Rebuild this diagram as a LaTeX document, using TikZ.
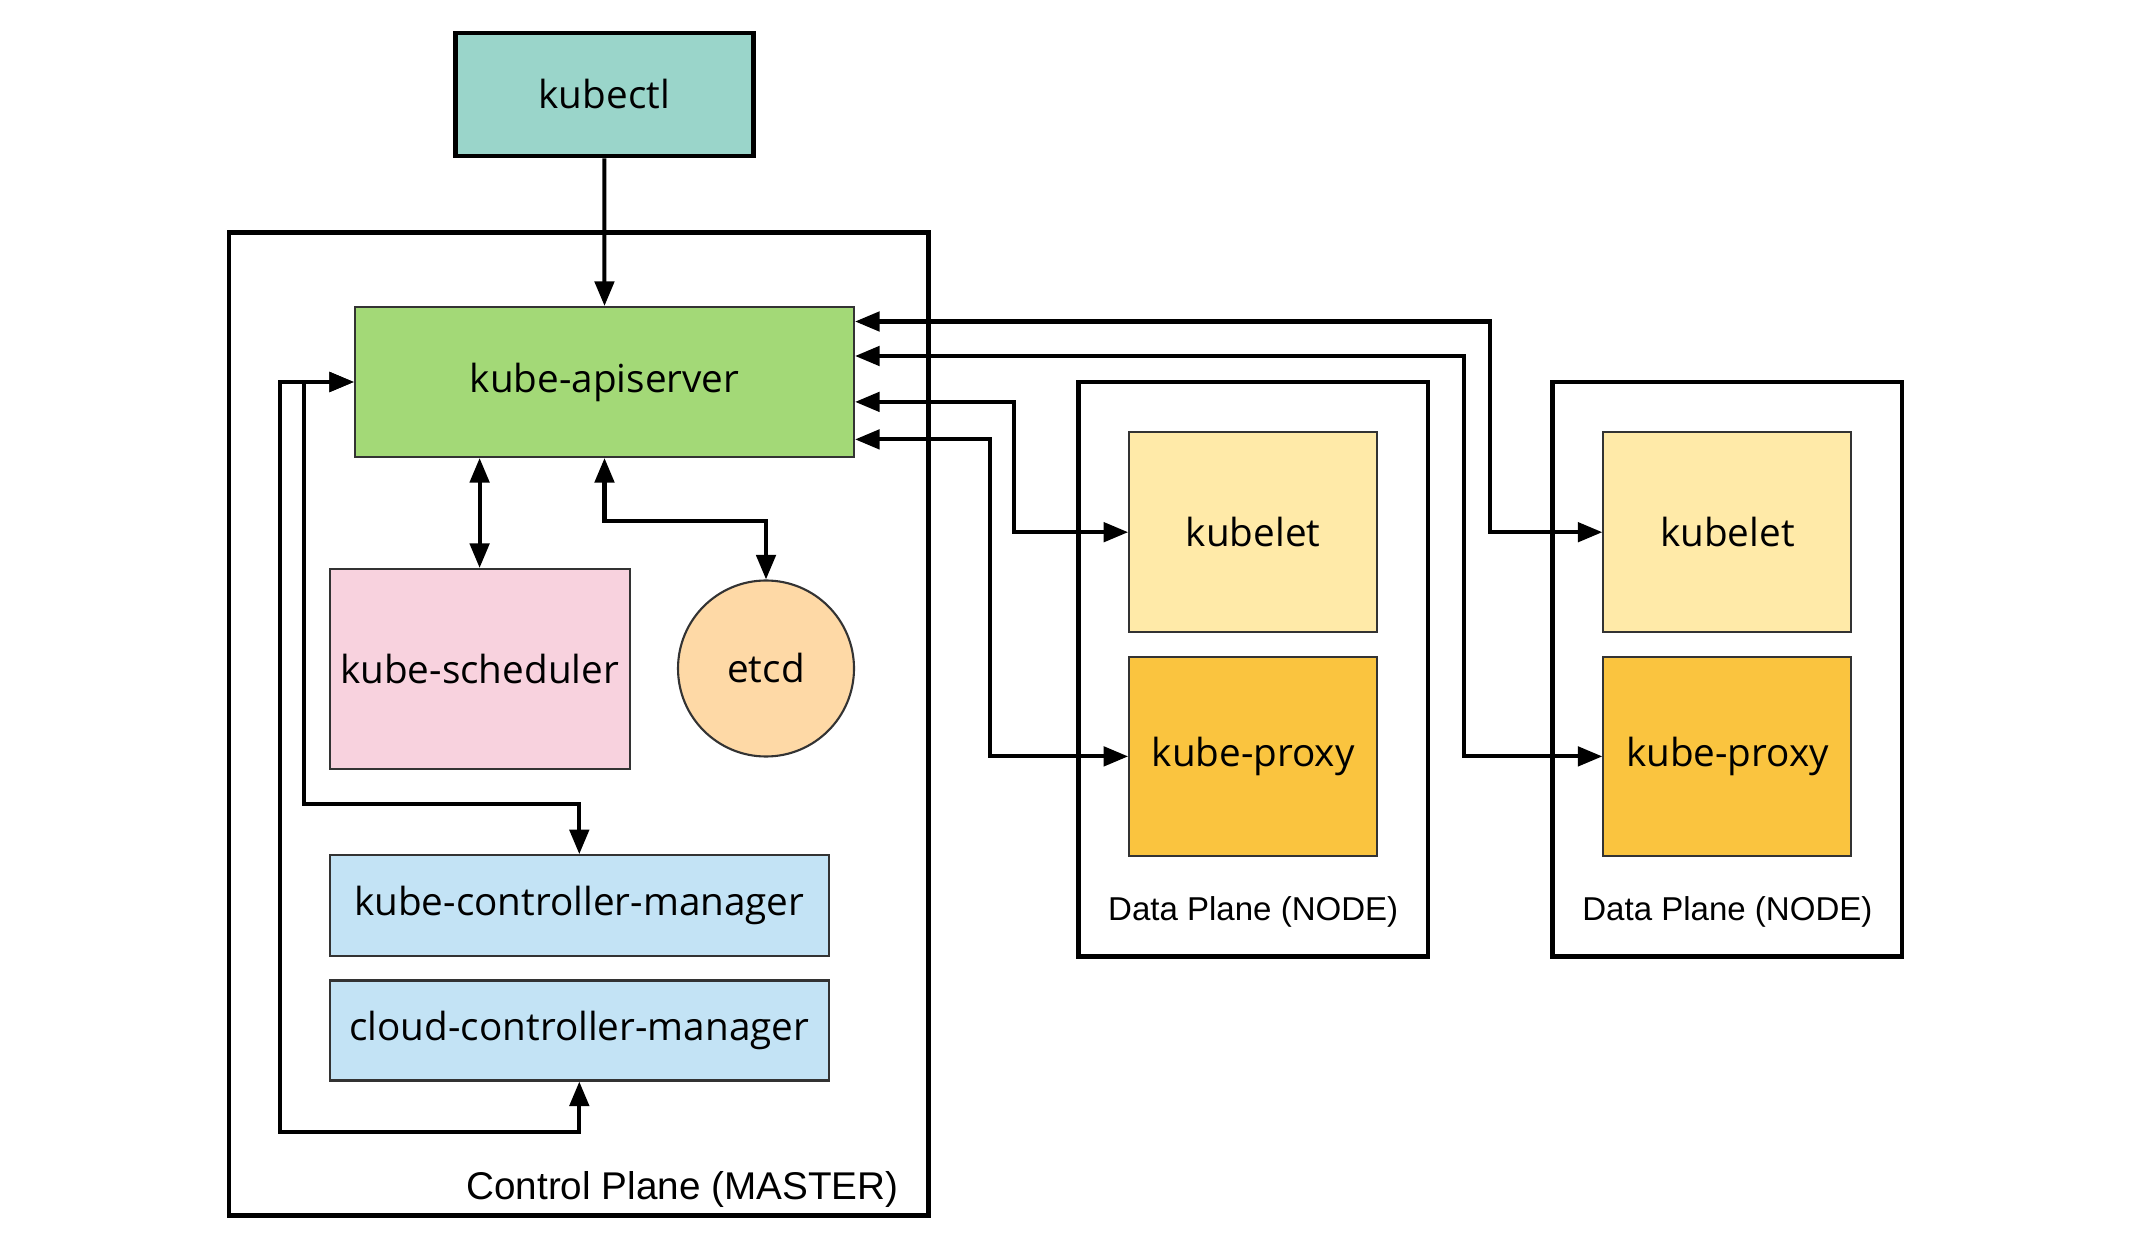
\documentclass[tikz,border=0pt]{standalone}
\usepackage{fontspec}
\setmainfont{Open Sans}
\newfontfamily\planefont{Liberation Sans}
\usetikzlibrary{arrows.meta, positioning, shapes.geometric}

\definecolor{ctlcol}{HTML}{9AD5CA}
\definecolor{apicol}{HTML}{A3D977}
\definecolor{schedcol}{HTML}{F8D2DE}
\definecolor{etcdcol}{HTML}{FED9A6}
\definecolor{mgrcol}{HTML}{C3E3F5}
\definecolor{letcol}{HTML}{FFEAA8}
\definecolor{proxycol}{HTML}{FAC43F}

\tikzset{
  comp/.style={draw=black!80, line width=0.6pt, inner sep=0pt,
    font=\fontsize{11}{13}\selectfont},
  plane/.style={draw, line width=1.3pt, inner sep=0pt},
  link/.style={line width=1.15pt, >={Triangle[length=7pt,width=5.5pt]}},
  planelabel/.style={inner sep=0pt, font=\planefont\fontsize{9.4}{11}\selectfont}
}

\begin{document}
\begin{tikzpicture}
\useasboundingbox (0,0) rectangle (21.4,-12.54);

% control plane
\draw[plane] (2.29,-2.323) rectangle (9.286,-12.155);
\node[planelabel, font=\planefont\fontsize{11}{13}\selectfont, anchor=east] (masterlbl) at (8.99,-11.89) {Control Plane (MASTER)};

\node[comp, draw=black, line width=1.3pt, fill=ctlcol, minimum width=2.98cm, minimum height=1.23cm] (kubectl) at (6.043,-0.945) {kubectl};
\node[comp, fill=apicol, minimum width=4.99cm, minimum height=1.5cm] (api) at (6.045,-3.82) {kube-apiserver};
\node[comp, fill=schedcol, minimum width=3.0cm, minimum height=2.0cm] (sched) at (4.796,-6.69) {kube-scheduler};
\node[comp, circle, fill=etcdcol, minimum size=1.76cm] (etcd) at (7.66,-6.685) {etcd};
\node[comp, fill=mgrcol, minimum width=4.99cm, minimum height=1.01cm] (kcm) at (5.793,-9.057) {kube-controller-manager};
\node[comp, fill=mgrcol, minimum width=4.99cm, minimum height=1.0cm] (ccm) at (5.793,-10.305) {cloud-controller-manager};

% data planes
\draw[plane] (10.785,-3.818) rectangle (14.279,-9.563);
\draw[plane] (15.527,-3.818) rectangle (19.02,-9.563);
\node[planelabel] (dp1lbl) at (12.532,-9.12) {Data Plane (NODE)};
\node[planelabel] (dp2lbl) at (17.274,-9.12) {Data Plane (NODE)};

\node[comp, fill=letcol, minimum width=2.48cm, minimum height=2.0cm] (let1) at (12.532,-5.322) {kubelet};
\node[comp, fill=proxycol, minimum width=2.48cm, minimum height=1.99cm] (proxy1) at (12.532,-7.564) {kube-proxy};
\node[comp, fill=letcol, minimum width=2.48cm, minimum height=2.0cm] (let2) at (17.274,-5.322) {kubelet};
\node[comp, fill=proxycol, minimum width=2.48cm, minimum height=1.99cm] (proxy2) at (17.274,-7.564) {kube-proxy};

% connectors
\draw[link, ->] (kubectl.south) -- (api.north);
\draw[link, <->] (api.south -| sched.north) -- (sched.north);
\draw[link, <->] (api.south) -- ++(0,-0.627) -| (etcd.north);
\draw[link, <->] (api.west) -| (3.036,-8.043) -| (kcm.north);
\draw[link, <->] (api.west) -| (2.80,-11.317) -| (ccm.south);

\draw[link, <->] (let2.west) -- ++(-1.12,0) |- (api.east |- 0,-3.215);
\draw[link, <->] (proxy2.west) -- ++(-1.38,0) |- (api.east |- 0,-3.56);
\draw[link, <->] (let1.west) -- ++(-1.14,0) |- (api.east |- 0,-4.019);
\draw[link, <->] (proxy1.west) -- ++(-1.38,0) |- (api.east |- 0,-4.394);
\end{tikzpicture}
\end{document}
